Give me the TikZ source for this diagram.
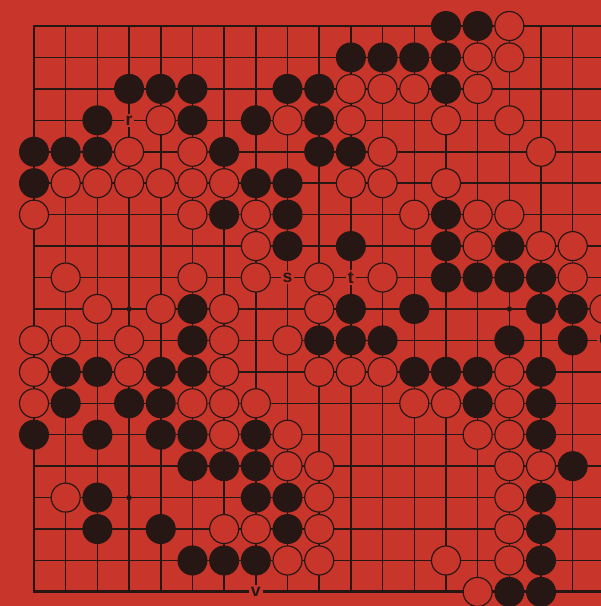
\documentclass[tikz,border=0pt]{standalone}
\usepackage{fontspec}
\setsansfont{Liberation Sans}
\usepackage{tikz}
\definecolor{board}{HTML}{C8352B}
\definecolor{ink}{HTML}{261715}

\begin{document}
\begin{tikzpicture}[x=0.9507cm,y=-0.9432cm,
  gridline/.style={draw=ink,line width=1.3pt},
  edgeline/.style={draw=ink,line width=2.5pt},
  bstone/.style={fill=ink},
  wstone/.style={fill=board,draw=ink,line width=1pt},
  lbl/.style={fill=board,text=ink,inner sep=1.6pt,font=\sffamily\bfseries\fontsize{15}{15}\selectfont}]
\fill[board] (-1.073,-0.827) rectangle (17.892,18.448);
\useasboundingbox (-1.073,-0.827) rectangle (17.892,18.448);
\clip (-1.073,-0.827) rectangle (17.892,18.448);
% board
\foreach \k in {0,...,18} {
  \draw[gridline] (0,\k)--(18,\k);
  \draw[gridline] (\k,0)--(\k,18);
}
\draw[edgeline] (0,0) rectangle (18,18);
\foreach \c/\r in {3/3,9/3,15/3,3/9,9/9,15/9,3/15,9/15,15/15}
  \fill[ink] (\c,\r) circle[radius=0.08cm];
% black stones
\foreach \c/\r in {13/0,14/0, 10/1,11/1,12/1,13/1, 3/2,4/2,5/2,8/2,9/2,13/2,
  2/3,5/3,7/3,9/3, 0/4,1/4,2/4,6/4,9/4,10/4, 0/5,7/5,8/5, 6/6,8/6,13/6,
  8/7,10/7,13/7,15/7, 13/8,14/8,15/8,16/8, 5/9,10/9,12/9,16/9,17/9,
  5/10,9/10,10/10,11/10,15/10,17/10, 1/11,2/11,4/11,5/11,12/11,13/11,14/11,16/11,
  1/12,3/12,4/12,14/12,16/12, 0/13,2/13,4/13,5/13,7/13,16/13,
  5/14,6/14,7/14,17/14, 2/15,7/15,8/15,16/15, 2/16,4/16,8/16,16/16,
  5/17,6/17,7/17,16/17, 15/18,16/18}
  \fill[bstone] (\c,\r) circle[radius=0.45cm];
% white stones
\foreach \c/\r in {15/0, 14/1,15/1, 10/2,11/2,12/2,14/2, 4/3,8/3,10/3,13/3,15/3,
  3/4,5/4,11/4,16/4, 1/5,2/5,3/5,4/5,5/5,6/5,10/5,11/5,13/5,
  0/6,5/6,7/6,12/6,14/6,15/6, 7/7,14/7,16/7,17/7, 1/8,5/8,7/8,9/8,11/8,17/8,
  2/9,4/9,6/9,9/9,18/9, 0/10,1/10,3/10,6/10,8/10,
  0/11,3/11,6/11,9/11,10/11,11/11,15/11, 0/12,5/12,6/12,7/12,12/12,13/12,15/12,
  6/13,8/13,14/13,15/13, 8/14,9/14,15/14,16/14, 1/15,9/15,15/15,
  6/16,7/16,9/16,15/16, 8/17,9/17,13/17,15/17, 14/18}
  \draw[wstone] (\c,\r) circle[radius=0.435cm];
% letters
\node[lbl] (r) at (3,3) {r};
\node[lbl] (s) at (8,8) {s};
\node[lbl] (t) at (10,8) {t};
\node[lbl] (u) at (18,10) {u};
\node[lbl] (v) at (7,18) {v};
\end{tikzpicture}
\end{document}
